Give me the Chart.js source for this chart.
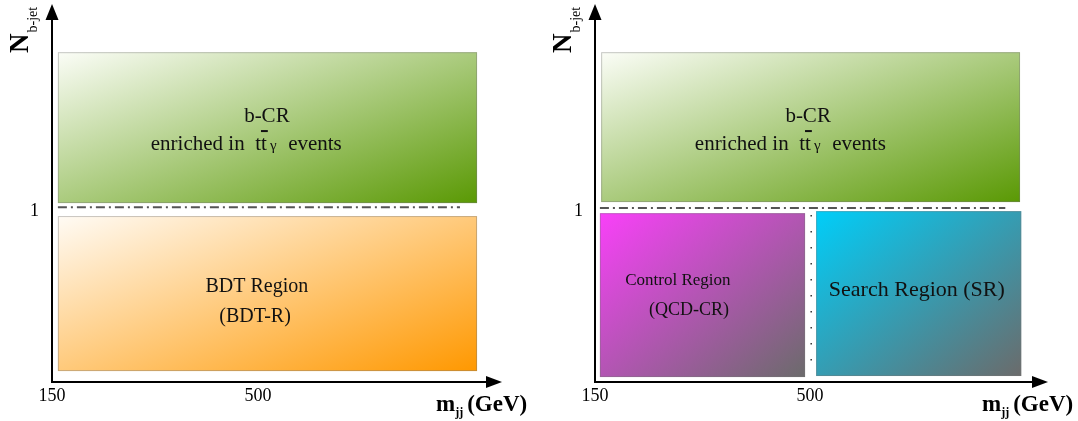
<!DOCTYPE html>
<html>
<head>
<meta charset="utf-8">
<script src="https://cdn.jsdelivr.net/npm/chart.js@4.4.1/dist/chart.umd.min.js"></script>
<style>
  html, body { margin: 0; padding: 0; background: #fff; }
  .panel { position: absolute; top: 0; height: 421px; }
  #left { left: 0; width: 540px; }
  #right { left: 540px; width: 538px; }
</style>
</head>
<body>
<div class="panel" id="left"><canvas id="leftChart"></canvas></div>
<div class="panel" id="right"><canvas id="rightChart"></canvas></div>
<script>
// axis ticks (m_jj in GeV, N_b-jet)
const xTicks = [150, 500];
const yTicks = [1];
const yMax = 2.13;

// regions as [mjj from, mjj to, Nb from, Nb to]
const leftBoxes = [[160, 872, 1.047, 1.93], [160, 872, 0.064, 0.971]];
const rightBoxes = [[160, 842, 1.053, 1.93], [158, 492, 0.029, 0.988], [510, 844, 0.035, 1.0]];

// N_b-jet = 1 separator lines: [mjj from, mjj to, Nb]
const leftSeparator = [160, 843, 1.023];
const rightSeparator = [158, 818, 1.018];
// m_jj = 500 split in the right panel: [mjj, Nb from, Nb to]
const rightSplit = [502, 0.041, 0.977];

// region labels
const leftLabels = ["b-CR", "BDT Region", "(BDT-R)"];
const leftLabelAt = [[515, 1.556], [498, 0.555], [495, 0.38]];
const rightLabels = ["b-CR", "Control Region", "(QCD-CR)", "Search Region (SR)"];
const rightLabelAt = [[497, 1.556], [285, 0.596], [303, 0.421], [674, 0.538]];
const leftEnrichedAt = [480, 1.398];
const rightEnrichedAt = [468, 1.398];

const serif = '"Liberation Serif", "Times New Roman", serif';

function enrichedLine(ctx, cx, cy, size) {
  const big = size + "px " + serif;
  const small = Math.round(size * 0.72) + "px " + serif;
  const parts = [["enriched in", big, 0], ["t", big, 0.5 * size], ["t", big, 0],
                 ["\u03b3", small, 0.15 * size], ["events", big, 0.55 * size]];
  let total = 0;
  parts.forEach(p => { ctx.font = p[1]; p.push(ctx.measureText(p[0]).width); total += p[2] + p[3]; });
  let xx = cx - total / 2;
  ctx.textBaseline = "alphabetic";
  ctx.textAlign = "left";
  const base = cy + size * 0.33;
  parts.forEach((p, i) => {
    xx += p[2];
    ctx.font = p[1];
    ctx.fillText(p[0], xx, base);
    if (i === 2) ctx.fillRect(xx, base - size * 0.95, p[3] + 1, 2);
    xx += p[3];
  });
}

const schematic = {
  id: "schematic",
  afterDraw(chart, args, o) {
    const { ctx, chartArea: a, scales: { x, y } } = chart;
    ctx.save();
    // regions, gradient runs corner to corner in box space
    o.boxes.forEach((b, i) => {
      const l = x.getPixelForValue(b[0]), r = x.getPixelForValue(b[1]);
      const t = y.getPixelForValue(b[3]), bt = y.getPixelForValue(b[2]);
      ctx.save();
      ctx.translate(l, t);
      ctx.scale(r - l, bt - t);
      const g = ctx.createLinearGradient(0, 0, 1, 1);
      g.addColorStop(0, o.colors[i][0]);
      g.addColorStop(1, o.colors[i][1]);
      ctx.fillStyle = g;
      ctx.fillRect(0, 0, 1, 1);
      ctx.restore();
      ctx.strokeStyle = "rgba(120,120,120,0.4)";
      ctx.lineWidth = 1;
      ctx.strokeRect(l + 0.5, t + 0.5, r - l - 1, bt - t - 1);
    });
    // dash-dot line at N = 1
    const s = o.separator;
    ctx.strokeStyle = "#555";
    ctx.lineWidth = 2;
    ctx.setLineDash([9, 4, 2, 4]);
    ctx.beginPath();
    ctx.moveTo(x.getPixelForValue(s[0]), y.getPixelForValue(s[2]));
    ctx.lineTo(x.getPixelForValue(s[1]), y.getPixelForValue(s[2]));
    ctx.stroke();
    if (o.split) {
      ctx.strokeStyle = "#333";
      ctx.lineWidth = 1.5;
      ctx.setLineDash([1.5, 14.5]);
      ctx.beginPath();
      ctx.moveTo(x.getPixelForValue(o.split[0]), y.getPixelForValue(o.split[2]));
      ctx.lineTo(x.getPixelForValue(o.split[0]), y.getPixelForValue(o.split[1]));
      ctx.stroke();
    }
    ctx.setLineDash([]);

    // arrows on the axes
    ctx.fillStyle = "#000";
    ctx.strokeStyle = "#000";
    ctx.lineWidth = 2;
    ctx.beginPath();
    ctx.moveTo(a.right, a.bottom);
    ctx.lineTo(a.right + 2, a.bottom);
    ctx.stroke();
    ctx.beginPath();
    ctx.moveTo(a.right + 12, a.bottom);
    ctx.lineTo(a.right - 4, a.bottom - 6);
    ctx.lineTo(a.right - 4, a.bottom + 6);
    ctx.closePath();
    ctx.fill();
    ctx.beginPath();
    ctx.moveTo(a.left, a.top - 14);
    ctx.lineTo(a.left - 6.5, a.top + 2);
    ctx.lineTo(a.left + 6.5, a.top + 2);
    ctx.closePath();
    ctx.fill();

    // labels inside regions
    ctx.fillStyle = "#111";
    ctx.textAlign = "center";
    ctx.textBaseline = "middle";
    o.labels.forEach((t, i) => {
      ctx.font = o.sizes[i] + "px " + serif;
      ctx.fillText(t, x.getPixelForValue(o.labelAt[i][0]), y.getPixelForValue(o.labelAt[i][1]));
    });
    enrichedLine(ctx, x.getPixelForValue(o.enrichedAt[0]), y.getPixelForValue(o.enrichedAt[1]), 21);

    // x axis title: m_jj (GeV)
    ctx.fillStyle = "#000";
    ctx.textAlign = "left";
    ctx.textBaseline = "alphabetic";
    let tx = a.right - 54;
    ctx.font = "bold 23px " + serif;
    ctx.fillText("m", tx, 411);
    tx += ctx.measureText("m").width;
    ctx.font = "bold 12px " + serif;
    ctx.fillText("jj", tx, 416);
    tx += ctx.measureText("jj").width + 4;
    ctx.font = "bold 23px " + serif;
    ctx.fillText("(GeV)", tx, 411);

    // y axis title: N_b-jet (rotated)
    ctx.translate(a.left - 24, 53);
    ctx.rotate(-Math.PI / 2);
    ctx.font = "bold 27px " + serif;
    ctx.fillText("N", 0, 0);
    const nw = ctx.measureText("N").width;
    ctx.font = "14px " + serif;
    ctx.fillText("b-jet", nw + 1, 9);
    ctx.restore();
  }
};

function makePanel(id, cfg) {
  return new Chart(document.getElementById(id), {
    type: "scatter",
    data: { datasets: [] },
    options: {
      responsive: true,
      maintainAspectRatio: false,
      animation: false,
      events: [],
      layout: { padding: { top: 18, right: cfg.padRight, left: 0, bottom: 0 } },
      plugins: { legend: { display: false }, tooltip: { enabled: false }, schematic: cfg },
      scales: {
        x: {
          type: "linear",
          min: 150,
          max: cfg.xMax,
          afterBuildTicks: s => { s.ticks = xTicks.map(v => ({ value: v })); },
          afterFit: s => { s.height = 39; s.paddingLeft = 0; s.paddingRight = 0; },
          grid: { display: false, drawTicks: false },
          border: { color: "#000", width: 2 },
          ticks: { color: "#000", padding: 3, autoSkip: false, maxRotation: 0,
                   callback: v => String(v), font: { family: serif, size: 18 } }
        },
        y: {
          type: "linear",
          min: 0,
          max: yMax,
          afterBuildTicks: s => { s.ticks = yTicks.map(v => ({ value: v })); },
          afterFit: s => { s.width = cfg.axisLeft; s.paddingTop = 0; s.paddingBottom = 0; },
          grid: { display: false, drawTicks: false },
          border: { color: "#000", width: 2 },
          ticks: { color: "#000", padding: cfg.yPad, callback: v => String(v),
                   font: { family: serif, size: 18 } }
        }
      }
    },
    plugins: [schematic]
  });
}

makePanel("leftChart", {
  xMax: 894, axisLeft: 52, padRight: 50, yPad: 13,
  boxes: leftBoxes,
  colors: [["#fbfdf7", "#5a9904"], ["#fffbf5", "#ff9800"]],
  separator: leftSeparator,
  labels: leftLabels, labelAt: leftLabelAt, sizes: [21, 20, 20],
  enrichedAt: leftEnrichedAt
});

makePanel("rightChart", {
  xMax: 868, axisLeft: 55, padRight: 42, yPad: 12,
  boxes: rightBoxes,
  colors: [["#fbfdf7", "#5a9904"], ["#f940f9", "#6b6b6b"], ["#00cef9", "#6b6b6b"]],
  separator: rightSeparator,
  split: rightSplit,
  labels: rightLabels, labelAt: rightLabelAt, sizes: [21, 17, 18, 22],
  enrichedAt: rightEnrichedAt
});
</script>
</body>
</html>
